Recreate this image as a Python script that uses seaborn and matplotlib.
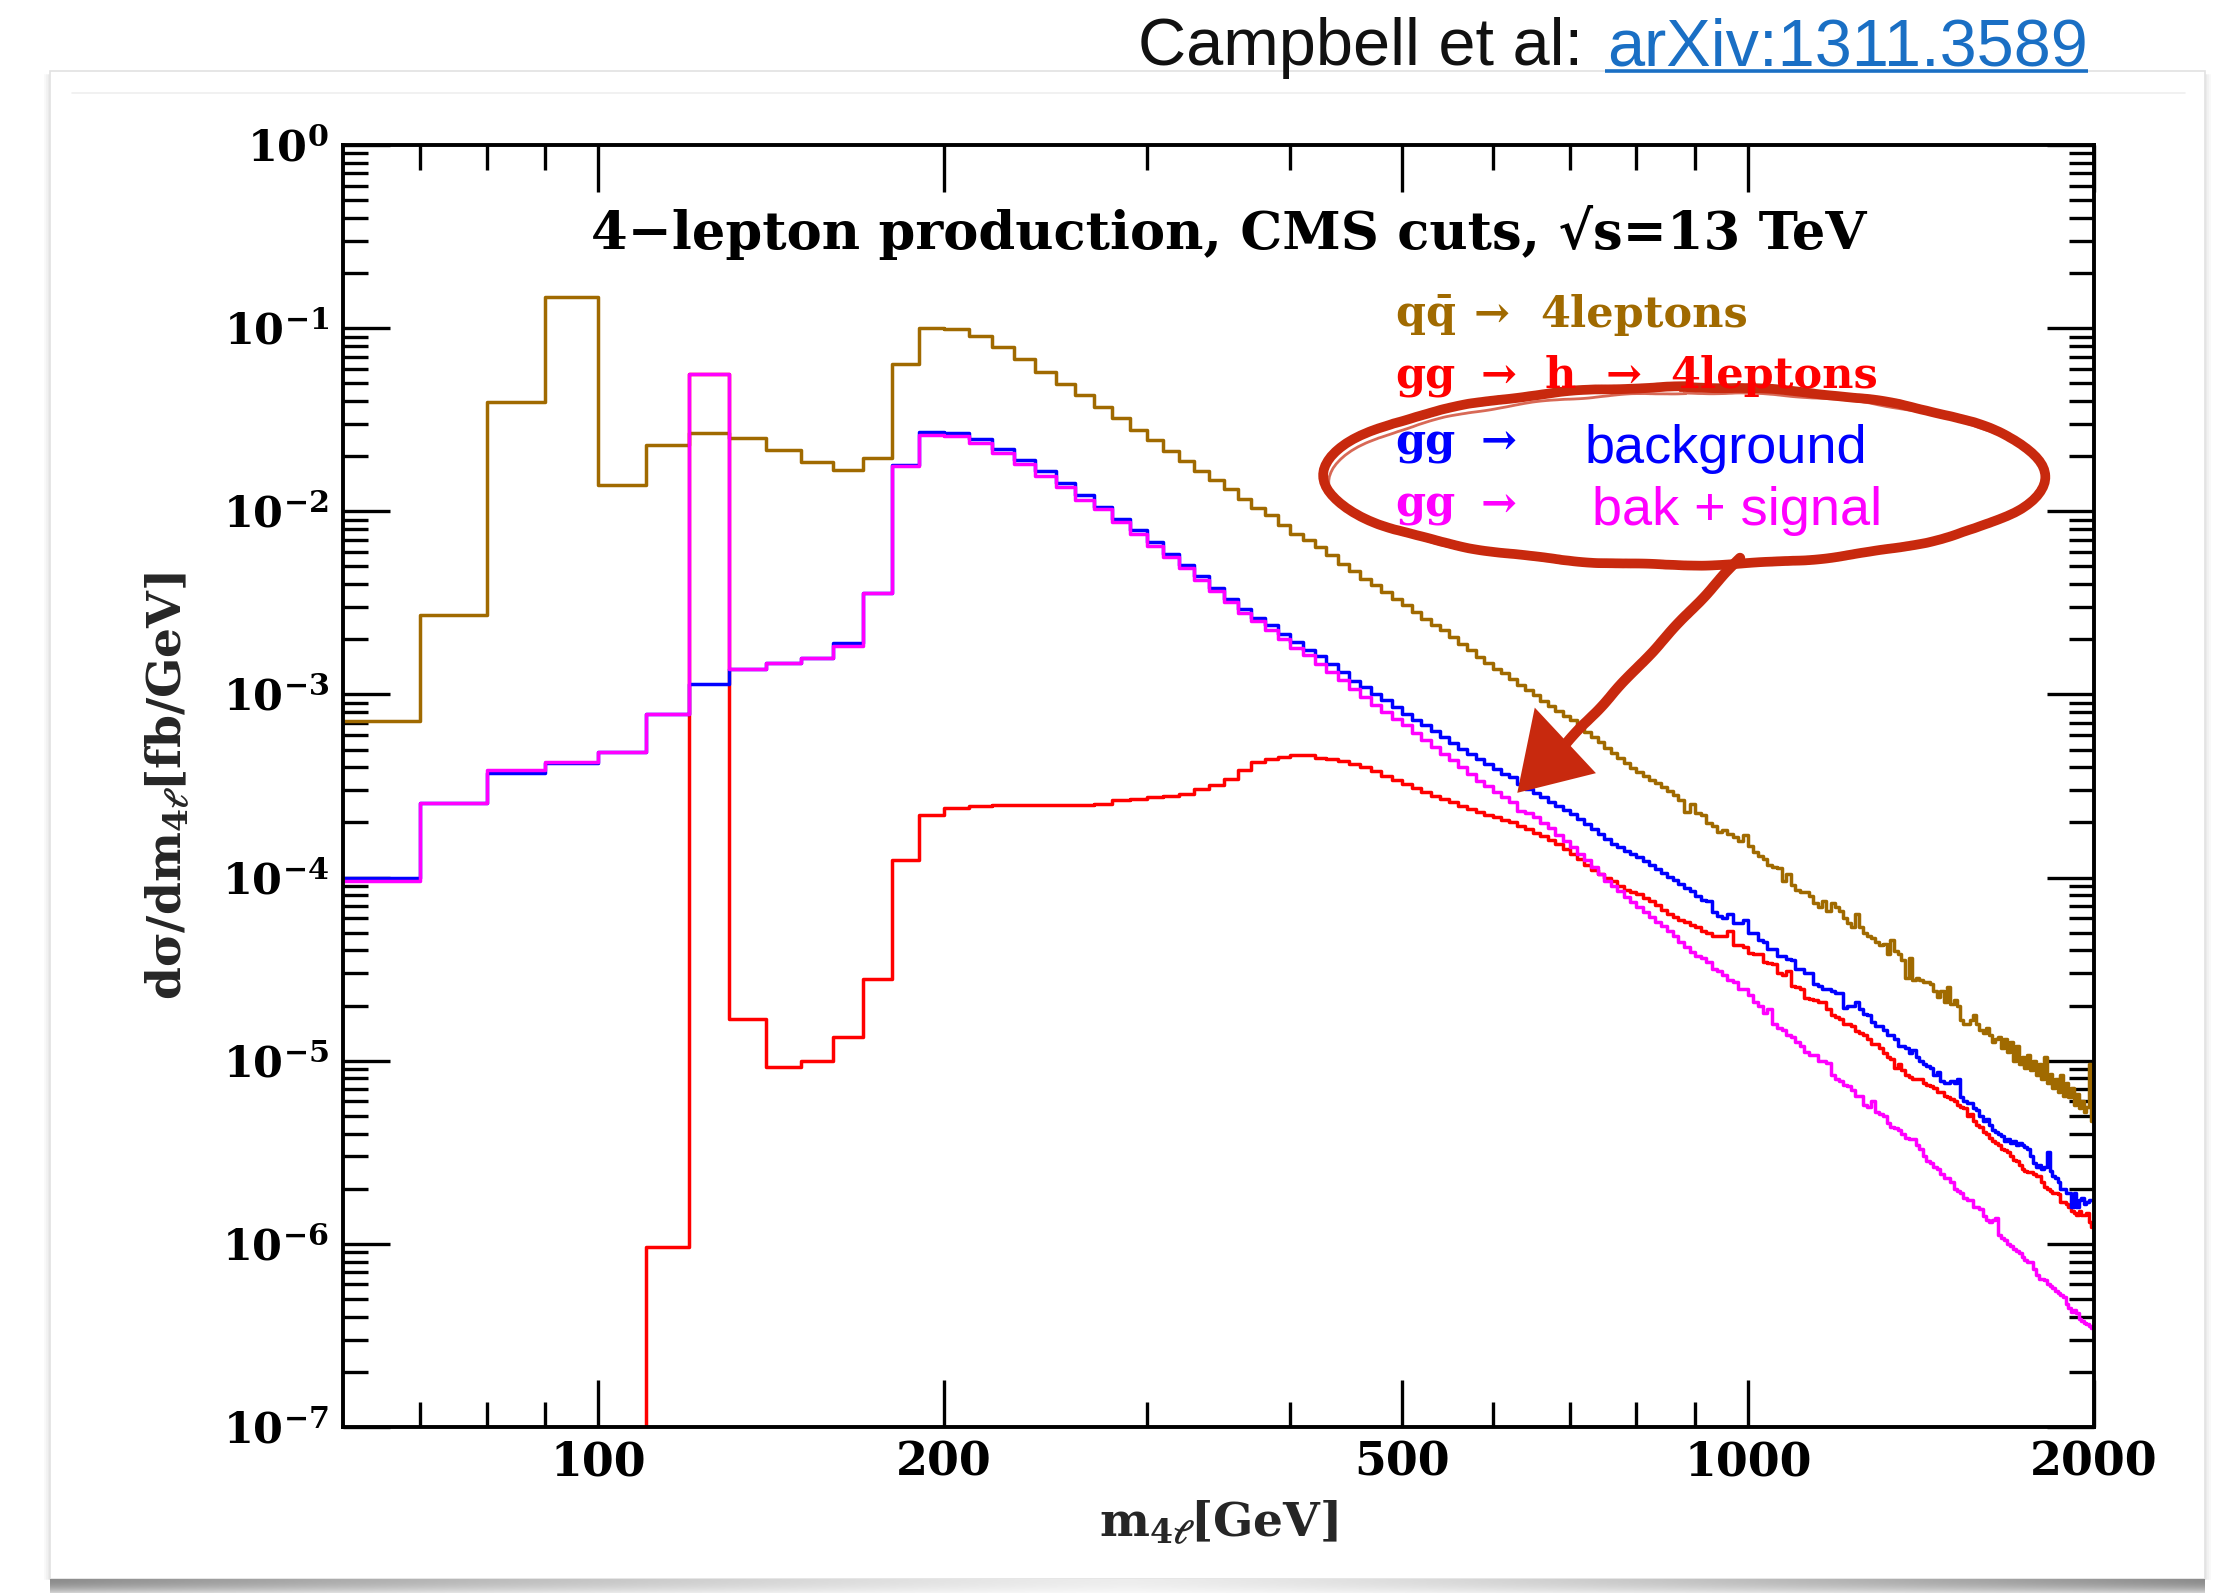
import numpy as np
import pandas as pd
import matplotlib
matplotlib.use("Agg")
import matplotlib.pyplot as plt
import seaborn as sns
from matplotlib.patches import Ellipse, Polygon, Rectangle
from matplotlib.ticker import FixedLocator, FuncFormatter, NullFormatter, LogLocator

# ---------------- data (log10 of dsigma/dm4l in fb/GeV, 10 GeV bins from 60 to 2000 GeV) -------------
bin_lo, bin_hi, bin_width = 60, 2000, 10

qq_4l_log10 = [
    -3.144, -2.566, -1.404, -0.830,
    -1.856, -1.637, -1.571, -1.600, -1.664, -1.732, -1.774, -1.710, -1.198, -0.999,
    -1.003, -1.041, -1.102, -1.167, -1.239, -1.305, -1.365, -1.431, -1.490, -1.554,
    -1.612, -1.670, -1.725, -1.780, -1.831, -1.881, -1.934, -1.980, -2.022, -2.077,
    -2.122, -2.158, -2.195, -2.240, -2.286, -2.327, -2.368, -2.405, -2.441, -2.478,
    -2.514, -2.550, -2.587, -2.619, -2.650, -2.687, -2.723, -2.760, -2.796, -2.828,
    -2.860, -2.885, -2.915, -2.951, -2.978, -3.005, -3.035, -3.065, -3.092, -3.118,
    -3.142, -3.175, -3.205, -3.235, -3.262, -3.290, -3.318, -3.345, -3.372, -3.400,
    -3.425, -3.445, -3.465, -3.485, -3.505, -3.525, -3.550, -3.575, -3.640, -3.600,
    -3.650, -3.660, -3.700, -3.720, -3.750, -3.740, -3.760, -3.780, -3.800, -3.770,
    -3.830, -3.860, -3.880, -3.900, -3.930, -3.940, -3.950, -4.020, -3.980, -4.040,
    -4.070, -4.080, -4.080, -4.100, -4.140, -4.160, -4.130, -4.180, -4.140, -4.160,
    -4.180, -4.220, -4.250, -4.270, -4.200, -4.270, -4.300, -4.320, -4.330, -4.350,
    -4.370, -4.360, -4.420, -4.340, -4.400, -4.420, -4.450, -4.550, -4.440, -4.560,
    -4.550, -4.560, -4.570, -4.570, -4.580, -4.620, -4.650, -4.620, -4.680, -4.600,
    -4.690, -4.670, -4.700, -4.780, -4.800, -4.800, -4.780, -4.750, -4.800, -4.830,
    -4.850, -4.820, -4.860, -4.900, -4.880, -4.870, -4.930, -4.880, -4.950, -4.900,
    -5.000, -4.920, -5.020, -4.980, -5.040, -4.970, -5.050, -5.000, -5.080, -5.020,
    -5.100, -4.980, -5.120, -5.070, -5.150, -5.100, -5.170, -5.080, -5.190, -5.120,
    -5.200, -5.150, -5.240, -5.180, -5.260, -5.220, -5.280, -5.250, -5.020, -5.330,
]

gg_h_4l_log10 = [
    -9.000, -9.000, -9.000, -9.000,
    -9.000, -6.015, -1.249, -4.770, -5.033, -5.000, -4.870, -4.556, -3.904, -3.660,
    -3.621, -3.609, -3.602, -3.603, -3.604, -3.604, -3.602, -3.596, -3.579, -3.570,
    -3.561, -3.553, -3.543, -3.519, -3.497, -3.464, -3.411, -3.370, -3.351, -3.342,
    -3.330, -3.332, -3.346, -3.352, -3.361, -3.380, -3.397, -3.420, -3.443, -3.466,
    -3.488, -3.511, -3.534, -3.552, -3.570, -3.589, -3.607, -3.625, -3.643, -3.657,
    -3.670, -3.685, -3.698, -3.716, -3.735, -3.755, -3.775, -3.795, -3.815, -3.842,
    -3.871, -3.900, -3.930, -3.960, -3.980, -4.000, -4.020, -4.045, -4.070, -4.080,
    -4.089, -4.110, -4.130, -4.150, -4.175, -4.199, -4.215, -4.230, -4.245, -4.260,
    -4.270, -4.290, -4.300, -4.320, -4.320, -4.320, -4.290, -4.370, -4.370, -4.380,
    -4.410, -4.420, -4.420, -4.460, -4.465, -4.470, -4.520, -4.530, -4.510, -4.590,
    -4.600, -4.610, -4.660, -4.665, -4.670, -4.680, -4.680, -4.720, -4.750, -4.760,
    -4.770, -4.800, -4.800, -4.810, -4.840, -4.850, -4.860, -4.880, -4.910, -4.910,
    -4.930, -4.960, -4.980, -4.990, -5.040, -5.020, -5.050, -5.080, -5.090, -5.100,
    -5.100, -5.100, -5.120, -5.130, -5.140, -5.150, -5.170, -5.170, -5.190, -5.200,
    -5.210, -5.220, -5.240, -5.250, -5.260, -5.300, -5.290, -5.330, -5.350, -5.360,
    -5.390, -5.400, -5.420, -5.440, -5.450, -5.460, -5.480, -5.490, -5.500, -5.520,
    -5.540, -5.550, -5.570, -5.590, -5.600, -5.610, -5.610, -5.620, -5.630, -5.630,
    -5.660, -5.690, -5.700, -5.710, -5.720, -5.720, -5.730, -5.770, -5.770, -5.780,
    -5.800, -5.820, -5.830, -5.840, -5.820, -5.840, -5.840, -5.830, -5.880, -5.910,
]

gg_bkg_log10 = [
    -4.000, -3.593, -3.430, -3.377,
    -3.317, -3.107, -2.941, -2.862, -2.830, -2.800, -2.720, -2.448, -1.746, -1.567,
    -1.571, -1.608, -1.659, -1.720, -1.781, -1.846, -1.913, -1.977, -2.042, -2.104,
    -2.167, -2.231, -2.293, -2.353, -2.419, -2.477, -2.532, -2.581, -2.623, -2.668,
    -2.714, -2.756, -2.790, -2.835, -2.880, -2.925, -2.960, -2.997, -3.033, -3.070,
    -3.106, -3.138, -3.169, -3.200, -3.233, -3.265, -3.297, -3.324, -3.351, -3.378,
    -3.406, -3.434, -3.452, -3.488, -3.515, -3.540, -3.560, -3.590, -3.610, -3.632,
    -3.652, -3.680, -3.710, -3.735, -3.760, -3.790, -3.815, -3.835, -3.855, -3.872,
    -3.889, -3.910, -3.930, -3.955, -3.975, -3.998, -4.015, -4.035, -4.055, -4.075,
    -4.100, -4.120, -4.130, -4.190, -4.210, -4.220, -4.200, -4.250, -4.250, -4.230,
    -4.300, -4.300, -4.340, -4.350, -4.390, -4.390, -4.430, -4.430, -4.445, -4.450,
    -4.500, -4.500, -4.520, -4.520, -4.580, -4.590, -4.610, -4.610, -4.620, -4.630,
    -4.630, -4.710, -4.700, -4.700, -4.680, -4.720, -4.745, -4.750, -4.790, -4.810,
    -4.810, -4.830, -4.860, -4.860, -4.880, -4.920, -4.920, -4.930, -4.960, -4.940,
    -4.980, -5.000, -5.020, -5.030, -5.040, -5.080, -5.060, -5.110, -5.120, -5.120,
    -5.110, -5.120, -5.100, -5.200, -5.220, -5.230, -5.230, -5.260, -5.270, -5.300,
    -5.330, -5.320, -5.350, -5.380, -5.390, -5.400, -5.410, -5.440, -5.430, -5.450,
    -5.440, -5.460, -5.450, -5.460, -5.470, -5.480, -5.520, -5.560, -5.580, -5.570,
    -5.590, -5.580, -5.500, -5.600, -5.630, -5.640, -5.660, -5.700, -5.700, -5.720,
    -5.720, -5.800, -5.720, -5.800, -5.760, -5.750, -5.780, -5.770, -5.760, -5.760,
]

gg_bkg_sig_log10 = [
    -4.020, -3.593, -3.410, -3.370,
    -3.317, -3.107, -1.249, -2.862, -2.830, -2.800, -2.735, -2.448, -1.750, -1.585,
    -1.590, -1.628, -1.681, -1.742, -1.805, -1.870, -1.937, -1.990, -2.060, -2.122,
    -2.188, -2.250, -2.310, -2.373, -2.437, -2.495, -2.554, -2.599, -2.646, -2.696,
    -2.745, -2.787, -2.836, -2.880, -2.923, -2.970, -3.015, -3.056, -3.097, -3.133,
    -3.169, -3.210, -3.251, -3.288, -3.324, -3.360, -3.397, -3.433, -3.470, -3.502,
    -3.534, -3.560, -3.588, -3.634, -3.650, -3.670, -3.700, -3.730, -3.765, -3.800,
    -3.834, -3.870, -3.905, -3.940, -3.980, -4.016, -4.045, -4.075, -4.105, -4.135,
    -4.162, -4.190, -4.215, -4.240, -4.265, -4.290, -4.320, -4.350, -4.380, -4.405,
    -4.430, -4.440, -4.460, -4.500, -4.510, -4.530, -4.560, -4.570, -4.610, -4.610,
    -4.640, -4.680, -4.700, -4.740, -4.720, -4.800, -4.820, -4.830, -4.860, -4.870,
    -4.900, -4.920, -4.950, -4.970, -4.970, -5.000, -5.000, -5.010, -5.080, -5.100,
    -5.110, -5.130, -5.140, -5.160, -5.190, -5.190, -5.240, -5.250, -5.220, -5.280,
    -5.290, -5.300, -5.340, -5.360, -5.370, -5.380, -5.400, -5.420, -5.430, -5.430,
    -5.460, -5.480, -5.520, -5.550, -5.560, -5.580, -5.590, -5.620, -5.640, -5.640,
    -5.660, -5.700, -5.710, -5.720, -5.750, -5.760, -5.760, -5.800, -5.800, -5.810,
    -5.850, -5.870, -5.880, -5.870, -5.860, -5.950, -5.970, -5.980, -6.000, -6.010,
    -6.030, -6.040, -6.050, -6.070, -6.090, -6.100, -6.100, -6.140, -6.170, -6.190,
    -6.190, -6.200, -6.220, -6.230, -6.240, -6.260, -6.270, -6.280, -6.290, -6.330,
    -6.350, -6.370, -6.360, -6.380, -6.410, -6.420, -6.430, -6.440, -6.450, -6.460,
]

process_names = ["qq -> 4leptons", "gg -> h -> 4leptons", "gg -> background", "gg -> bak + signal"]
process_colors = ["#a06a00", "#ff0000", "#0000ff", "#ff00ff"]

x_major_ticks = [100, 200, 500, 1000, 2000]
x_minor_ticks = [70, 80, 90, 300, 400, 600, 700, 800, 900]
y_major_exponents = [-7, -6, -5, -4, -3, -2, -1, 0]

title_text = "4\u2212lepton production, CMS cuts, \u221as=13 TeV"
credit_text = "Campbell et al:"
link_text = "arXiv:1311.3589"

# ---------------- long-form table for seaborn ----------------
edges = np.arange(bin_lo, bin_hi + bin_width, bin_width)
frames = []
for name, logv in zip(process_names, [qq_4l_log10, gg_h_4l_log10, gg_bkg_log10, gg_bkg_sig_log10]):
    v = 10.0 ** np.asarray(logv, dtype=float)
    assert len(v) == len(edges) - 1, (name, len(v))
    frames.append(pd.DataFrame({"m4l": edges, "xsec": np.append(v, v[-1]), "process": name}))
df = pd.concat(frames, ignore_index=True)

# ---------------- style ----------------
sns.set_style("white")
plt.rcParams.update({
    "font.family": ["DejaVu Serif"],
    "font.weight": "bold",
    "mathtext.fontset": "dejavuserif",
    "mathtext.default": "bf",
    "axes.linewidth": 2.6,
})

W, H = 2234, 1593
fig = plt.figure(figsize=(W / 100, H / 100), dpi=100)
fig.patch.set_facecolor("white")

# background layer in pixel coordinates
bg = fig.add_axes([0, 0, 1, 1], label="bg", zorder=0)
bg.set_xlim(0, W); bg.set_ylim(H, 0); bg.axis("off")
bg.add_patch(Rectangle((50, 71), 2155, 1508, facecolor="white", edgecolor="#e2e2e2", lw=1.2, zorder=1))
for i, a in enumerate([0.08, 0.05, 0.025]):
    bg.plot([49 - 2 * i] * 2, [75, 1579], color="black", alpha=a, lw=1.5, zorder=0)
    bg.plot([2206 + 2 * i] * 2, [75, 1579], color="black", alpha=a, lw=1.5, zorder=0)
bg.plot([72, 2185], [93, 93], color="#efefef", lw=1.2, zorder=2)
gx = np.linspace(-1, 1, 800)
gy = np.linspace(0, 1, 16)
base = 0.55 + 0.38 * (1 - np.abs(gx) ** 1.3)
inten = base[None, :] + (1 - base[None, :]) * (gy[:, None] ** 2) * 0.6
img = np.dstack([inten, inten, inten])
bg.imshow(img, extent=(50, 2205, 1593, 1579), aspect="auto", origin="upper", zorder=1)
bg.set_xlim(0, W); bg.set_ylim(H, 0)

sans_family = ["Liberation Sans", "DejaVu Sans"]
link_color = "#1a6fc4"
bg.text(1583, 65, credit_text, ha="right", va="baseline", fontsize=48,
        family=sans_family, fontweight="normal", color="#111111")
bg.text(2088, 65, link_text, ha="right", va="baseline", fontsize=48,
        family=sans_family, fontweight="normal", color=link_color)
bg.plot([1605, 2088], [71, 71], color=link_color, lw=2.6, solid_capstyle="butt")

# main axes
ax = fig.add_axes([343 / W, 1 - 1427 / H, (2094 - 343) / W, (1427 - 145) / H], zorder=2)
ax.set_facecolor("white")
ax.set_xscale("log")
ax.set_yscale("log")

sns.lineplot(data=df, x="m4l", y="xsec", hue="process", hue_order=process_names,
             palette=process_colors, drawstyle="steps-post", estimator=None, sort=False,
             legend=False, linewidth=2.5, ax=ax)

ax.set_xlim(60, 2000)
ax.set_ylim(1e-7, 1.0)

ax.xaxis.set_major_locator(FixedLocator(x_major_ticks))
ax.xaxis.set_minor_locator(FixedLocator(x_minor_ticks))
ax.xaxis.set_major_formatter(FuncFormatter(lambda v, p: f"{v:g}"))
ax.xaxis.set_minor_formatter(NullFormatter())
ax.yaxis.set_major_locator(FixedLocator([10.0 ** e for e in y_major_exponents]))
ax.yaxis.set_minor_locator(LogLocator(base=10, subs=np.arange(2, 10) * 1.0, numticks=100))
ax.yaxis.set_major_formatter(FuncFormatter(lambda v, p: r"$10^{%d}$" % int(round(np.log10(v)))))
ax.yaxis.set_minor_formatter(NullFormatter())

ax.tick_params(which="both", direction="in", top=True, right=True, bottom=True, left=True,
               width=2.4, colors="black")
ax.tick_params(which="major", length=34)
ax.tick_params(axis="x", which="major", pad=9, labelsize=33)
ax.tick_params(axis="y", which="major", pad=10, labelsize=31)
ax.tick_params(which="minor", length=18)
for s in ax.spines.values():
    s.set_linewidth(2.8)
    s.set_color("black")

ax.set_xlabel(r"m$_{4\ell}$[GeV]", fontsize=34, fontweight="bold")
ax.set_ylabel(r"d$\sigma$/dm$_{4\ell}$[fb/GeV]", fontsize=34, fontweight="bold")
ax.xaxis.set_label_coords(0.5, -0.056)
ax.yaxis.set_label_coords(-0.086, 0.5)

ax.text(0.506, 0.932, title_text, transform=ax.transAxes, ha="center", va="center",
        fontsize=38, family=["DejaVu Serif"], fontweight="bold", color="black")

# overlay: legend texts and hand-drawn annotation
ov = fig.add_axes([0, 0, 1, 1], label="ov", zorder=5)
ov.set_xlim(0, W); ov.set_ylim(H, 0); ov.axis("off"); ov.patch.set_alpha(0)

serif = dict(fontsize=31, family=["DejaVu Serif"], fontweight="bold", va="baseline", ha="left")
sans = dict(fontsize=39, family=sans_family, fontweight="normal", va="baseline", ha="left")
brown, red, blue, mag = process_colors
ov.text(1395, 327, r"$q\bar{q}$", color=brown, **serif)
ov.text(1474, 327, "\u2192", color=brown, **serif)
ov.text(1540, 327, "4leptons", color=brown, **serif)
ov.text(1395, 388, "gg", color=red, **serif)
ov.text(1481, 388, "\u2192", color=red, **serif)
ov.text(1545, 388, "h", color=red, **serif)
ov.text(1606, 388, "\u2192", color=red, **serif)
ov.text(1670, 388, "4leptons", color=red, **serif)
ov.text(1395, 454, "gg", color=blue, **serif)
ov.text(1481, 454, "\u2192", color=blue, **serif)
ov.text(1585, 463, "background", color=blue, **sans)
ov.text(1395, 517, "gg", color=mag, **serif)
ov.text(1481, 517, "\u2192", color=mag, **serif)
ov.text(1592, 525, "bak + signal", color=mag, **sans)

ann = "#c8290e"
ell = Ellipse((1684, 476), 723, 178, angle=0, fill=False, edgecolor=ann, lw=7.0)
ell.set_sketch_params(0.8, 120, 2)
ov.add_patch(ell)
ell2 = Ellipse((1686, 479), 716, 172, angle=-0.6, fill=False, edgecolor=ann, lw=2.0, alpha=0.7)
ell2.set_sketch_params(0.8, 100, 2)
ov.add_patch(ell2)
shaft, = ov.plot([1740, 1562], [558, 748], color=ann, lw=7.5, solid_capstyle="round")
shaft.set_sketch_params(0.6, 80, 2)
head = Polygon([(1536, 712), (1520, 790), (1592, 772)], closed=True, facecolor=ann, edgecolor=ann, lw=3)
ov.add_patch(head)

fig.savefig("out.png", dpi=100)
